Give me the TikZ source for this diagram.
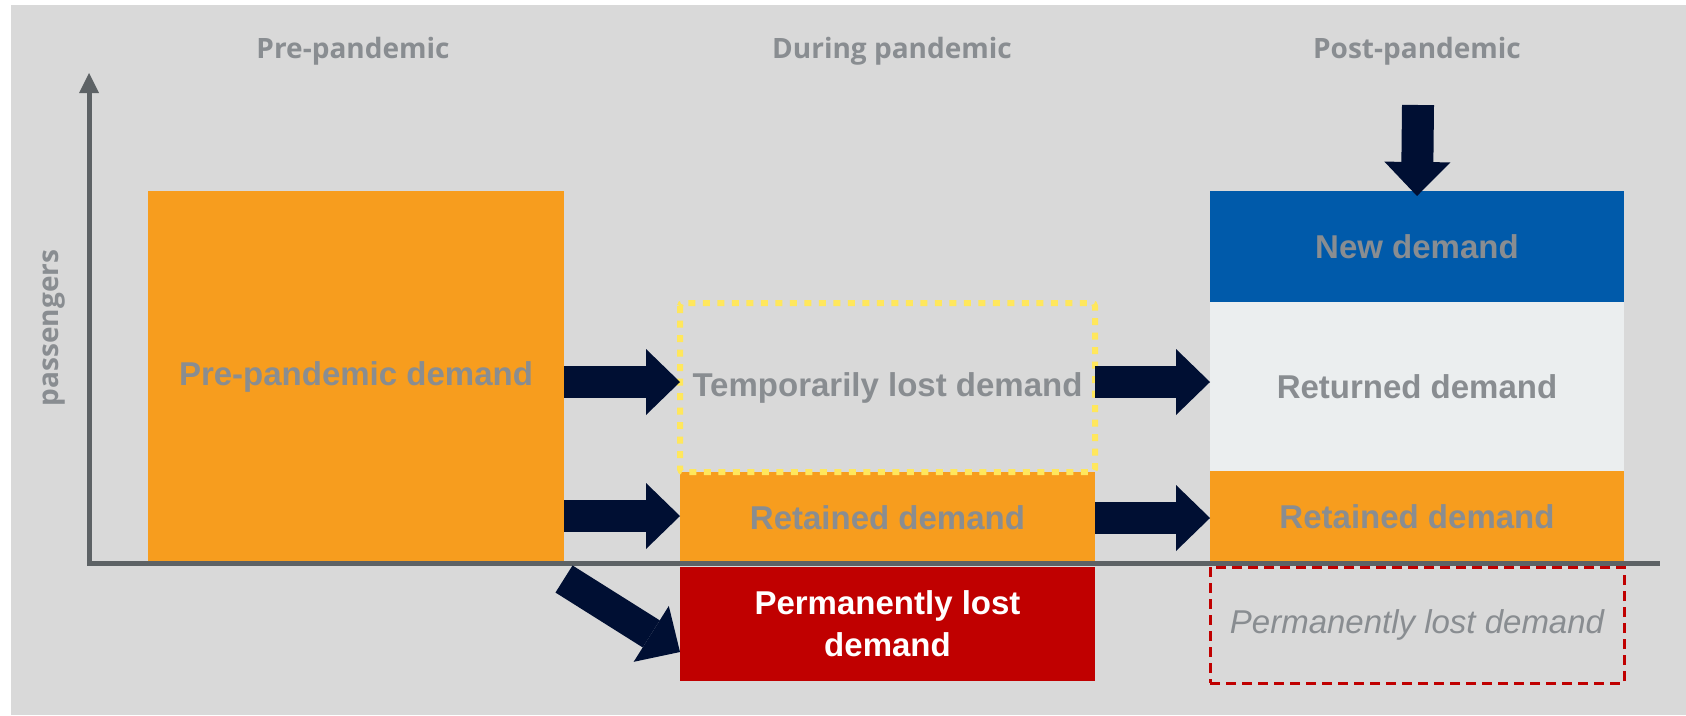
\documentclass[tikz,border=0pt]{standalone}
\usepackage{fontspec}
\setmainfont{Liberation Sans}
\newfontfamily\headfont{Open Sans}
\usetikzlibrary{arrows.meta,positioning}
\definecolor{bggray}{HTML}{D9D9D9}
\definecolor{axisgray}{HTML}{5D6265}
\definecolor{txtgray}{HTML}{898D91}
\definecolor{demorange}{HTML}{F79D1E}
\definecolor{demblue}{HTML}{005AAA}
\definecolor{demlight}{HTML}{EBEEEF}
\definecolor{demred}{HTML}{C00000}
\definecolor{demyellow}{HTML}{FFE75C}
\definecolor{navy}{HTML}{000F33}

\begin{document}
\begin{tikzpicture}[x=1pt,y=-1pt,
	box/.style={inner sep=0pt,outer sep=0pt,anchor=north west,align=center,
		font=\fontsize{33}{42}\selectfont\bfseries,text=txtgray},
	period/.style={font=\headfont\fontsize{28}{34}\selectfont\bfseries,text=txtgray,anchor=base},
	fatarrow/.style={draw=navy,line width=32pt,-{Triangle[width=66pt,length=34pt,line width=0pt]}},
	axis/.style={draw=axisgray,line width=5pt}]
	\useasboundingbox (0,0) rectangle (1686,715);
	\fill[white] (0,0) rectangle (1686,715);
	\fill[bggray] (11,5) rectangle (1686,715);
	
	\node[period] (tpre) at (353,58) {Pre-pandemic};
	\node[period] (tduring) at (892,58) {During pandemic};
	\node[period] (tpost) at (1417,58) {Post-pandemic};
	
	\node[box,fill=demorange,minimum width=416pt,minimum height=372pt] (pre) at (148,191) {Pre-pandemic demand};
	
	\node[box,fill=demorange,minimum width=415pt,minimum height=91pt] (retA) at (680,472) {Retained demand};
	\node[box,minimum width=415pt,minimum height=169pt] (temp) at (680,303) {Temporarily lost demand};
	\draw[demyellow,line width=6pt,dash pattern=on 7pt off 7.5pt,rounded corners=3pt]
		(temp.north west) rectangle (temp.south east);
	\node[box,fill=demred,text=white,minimum width=415pt,minimum height=114pt] (lost) at (680,567) {Permanently lost\\demand};
	
	\node[box,fill=demblue,minimum width=414pt,minimum height=111pt] (new) at (1210,191) {New demand};
	\node[box,fill=demlight,minimum width=414pt,minimum height=169pt,below=0pt of new] (returned) {Returned demand};
	\node[box,fill=demorange,minimum width=414pt,minimum height=92pt,below=0pt of returned] (retB) {Retained demand};
	\node[box,draw=demred,line width=3pt,dash pattern=on 10pt off 6pt,
		font=\fontsize{33}{42}\selectfont\itshape,minimum width=414pt,minimum height=116pt] (lostB) at (1210,567) {Permanently lost demand};
	
	\draw[axis] (89,563) -- (1660,563);
	\draw[axis,-{Triangle[width=20pt,length=20pt,line width=0pt]}] (89,565.5) -- (89,73);
	\node[font=\headfont\fontsize{28}{34}\selectfont\bfseries,text=txtgray,rotate=90] (ylab) at (54,328) {passengers};
	
	\foreach \src/\dst/\ypos in {pre/temp/382,pre/retA/516,temp/returned/382,retA/retB/518}
		\draw[fatarrow] (\src.east |- 0,\ypos) -- (\dst.west |- 0,\ypos);
	\coordinate (newsrc) at (1418,105);
	\draw[fatarrow] (newsrc) -- ([yshift=-5pt]new.north);
	\draw[fatarrow] ([yshift=-16pt]pre.south east) -- ([yshift=-28pt]lost.west);
\end{tikzpicture}
\end{document}
